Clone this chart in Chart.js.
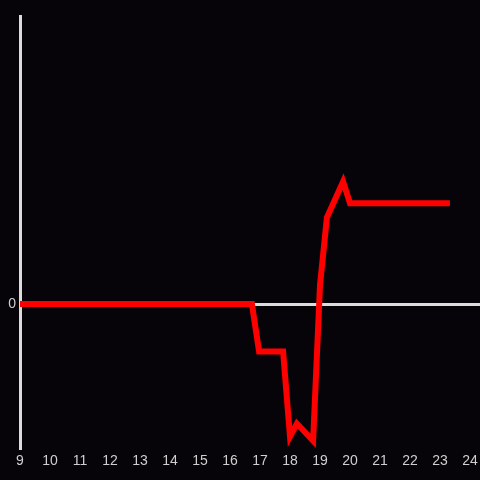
<!DOCTYPE html>
<html>
<head>
<meta charset="utf-8">
<script src="https://cdn.jsdelivr.net/npm/chart.js@4/dist/chart.umd.min.js"></script>
<style>
  html, body { margin: 0; padding: 0; background: #060408; }
  #wrap { width: 480px; height: 480px; }
</style>
</head>
<body>
<div id="wrap"><canvas id="chart"></canvas></div>
<script>
// hours of day (x) and value (y) at each vertex of the line
const hours = [9, 16.73, 16.97, 17.77, 18.0, 18.23, 18.77, 19.0, 19.23, 19.77, 20.0, 23.33];
const values = [0, 0, -0.33, -0.33, -0.92, -0.83, -0.95, 0.13, 0.6, 0.85, 0.7, 0.7];
const xTicks = [9, 10, 11, 12, 13, 14, 15, 16, 17, 18, 19, 20, 21, 22, 23, 24];
const yTicks = [0];

const axisColor = '#dcdcdc';
const labelColor = '#cfcfcf';

const ctx = document.getElementById('chart').getContext('2d');
new Chart(ctx, {
  type: 'line',
  data: {
    datasets: [{
      data: hours.map((h, i) => ({ x: h, y: values[i] })),
      borderColor: '#ff0000',
      borderWidth: 6,
      pointRadius: 0,
      tension: 0,
      fill: false
    }]
  },
  options: {
    responsive: true,
    maintainAspectRatio: false,
    animation: false,
    layout: { padding: { top: 16, right: 0, left: 0, bottom: 0 } },
    plugins: { legend: { display: false }, tooltip: { enabled: false } },
    scales: {
      x: {
        type: 'linear',
        min: 9,
        max: 9 + 460 / 30,
        afterBuildTicks: s => { s.ticks = xTicks.map(v => ({ value: v })); },
        afterFit: s => { s.height = 32; s.paddingLeft = 0; s.paddingRight = 0; },
        grid: { display: false, drawTicks: false },
        border: { display: false },
        ticks: {
          color: labelColor,
          font: { family: 'Liberation Sans', size: 14 },
          padding: 5,
          maxRotation: 0,
          autoSkip: false
        }
      },
      y: {
        min: -1,
        max: 2,
        afterBuildTicks: s => { s.ticks = yTicks.map(v => ({ value: v })); },
        afterFit: s => { s.width = 20; s.paddingTop = 0; s.paddingBottom = 0; },
        grid: { color: axisColor, lineWidth: 3, drawTicks: false },
        border: { display: true, color: axisColor, width: 3 },
        ticks: {
          color: labelColor,
          font: { family: 'Liberation Sans', size: 14 },
          padding: 4
        }
      }
    }
  }
});
</script>
</body>
</html>
